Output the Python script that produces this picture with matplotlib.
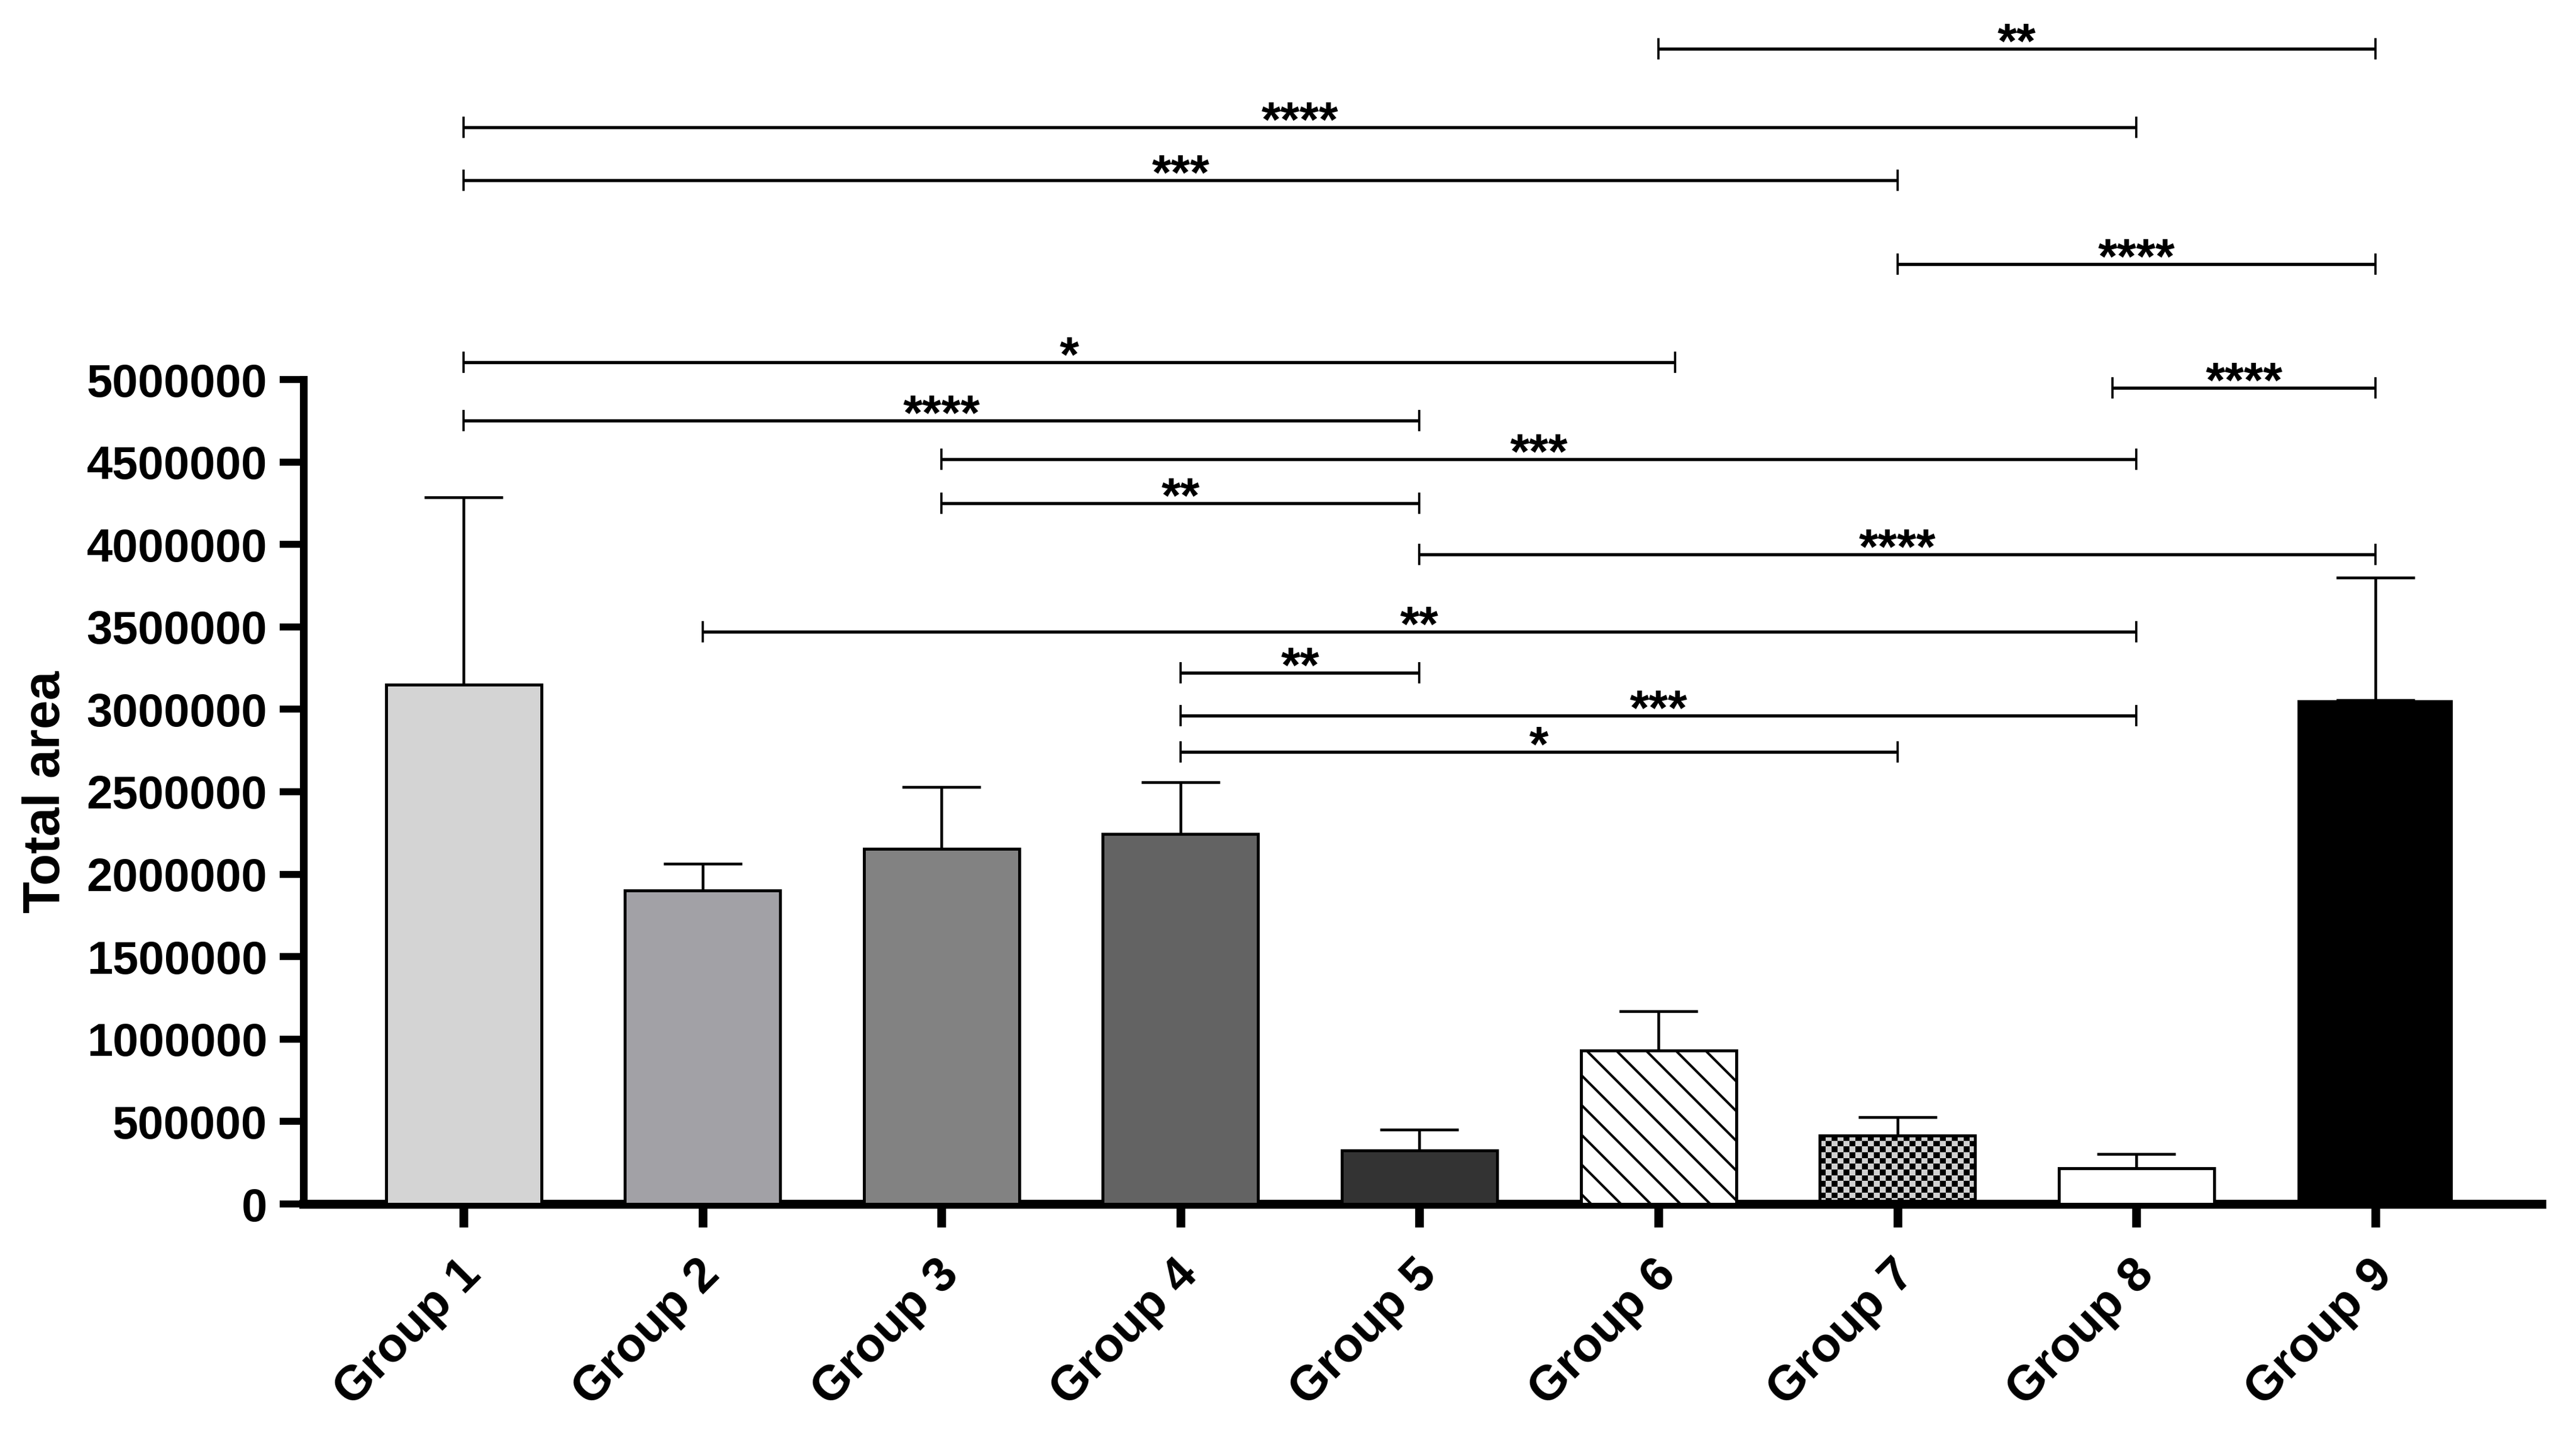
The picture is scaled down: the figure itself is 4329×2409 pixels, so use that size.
import matplotlib
matplotlib.use('Agg')
import matplotlib.pyplot as plt
import matplotlib.transforms as mtransforms
import numpy as np

plt.rcParams['font.family'] = ['Liberation Sans', 'DejaVu Sans']
plt.rcParams['font.weight'] = 'bold'
plt.rcParams['hatch.linewidth'] = 1.0

groups = ['Group 1', 'Group 2', 'Group 3', 'Group 4', 'Group 5',
          'Group 6', 'Group 7', 'Group 8', 'Group 9']
means = np.array([3149000, 1900000, 2154000, 2244000, 325000,
                  931000, 415000, 216000, 3055000])
upper = np.array([4286000, 2064000, 2529000, 2558000, 451000,
                  1169000, 527000, 303000, 3800000])
errs = upper - means
colors = ['#d4d4d4', '#a2a1a6', '#828282', '#636363', '#333333',
          'white', 'none', 'white', 'black']
hatches = [None, None, None, None, None, '\\\\', None, None, None]

# significance brackets: (from group, to group, height, label)
brackets = [
    (5, 8, 7007000, '**'),
    (0, 7, 6530000, '****'),
    (0, 6, 6210000, '***'),
    (6, 8, 5700000, '****'),
    (0, 5.07, 5105000, '*'),
    (6.9, 8, 4950000, '****'),
    (0, 4, 4750000, '****'),
    (2, 7, 4515000, '***'),
    (2, 4, 4250000, '**'),
    (4, 8, 3940000, '****'),
    (1, 7, 3470000, '**'),
    (3, 4, 3220000, '**'),
    (3, 7, 2960000, '***'),
    (3, 6, 2740000, '*'),
]

W, H, dpi = 4329, 2409, 300
fig = plt.figure(figsize=(W/dpi, H/dpi), dpi=dpi)
y0_px = 2024
px_per_unit = 277.2 / 1e6
ax = fig.add_axes([510/W, 1 - y0_px/H, (4271-510)/W, y0_px/H])
ax.set_facecolor('none')

x = np.arange(len(groups))
ax.errorbar(x, means, yerr=[np.zeros(len(means)), errs], fmt='none',
            ecolor='black', elinewidth=1.1, capsize=15.8, capthick=1.1, zorder=2)
bars = ax.bar(x, means, width=0.65, color=colors, edgecolor='black',
              linewidth=1.2, zorder=3)
for b, h in zip(bars, hatches):
    if h:
        b.set_hatch(h)
bars[-1].set_linewidth(0)

xlim = (-0.67, 8.695)
ylim = (0, y0_px / px_per_unit)

# checkered fill for group 7, clipped to the bar
b7 = bars[6]
bx0, bw, bh = b7.get_x(), b7.get_width(), b7.get_height()
ax_w_px = (4271 - 510)
ncols = int(round(bw / (xlim[1] - xlim[0]) * ax_w_px / 10))
nrows = max(1, int(round(bh * px_per_unit / 10)))
checker = (np.indices((nrows, ncols)).sum(axis=0) % 2).astype(float)
im = ax.imshow(checker, cmap=matplotlib.colors.ListedColormap(['black', '#d0d0d0']),
               extent=(bx0, bx0 + bw, 0, bh), aspect='auto',
               interpolation='nearest', zorder=2.5)
im.set_clip_path(b7)
ax.set_xlim(*xlim)
ax.set_ylim(*ylim)

# brackets
cap = 16 / px_per_unit
for a, b, yv, lab in brackets:
    ax.plot([a, b], [yv, yv], color='black', lw=1.3, solid_capstyle='butt', zorder=4)
    ax.plot([a, a], [yv - cap, yv + cap], color='black', lw=0.9, zorder=4)
    ax.plot([b, b], [yv - cap, yv + cap], color='black', lw=0.9, zorder=4)
    ax.annotate(lab, xy=((a + b) / 2, yv), xytext=(0, -3.8), textcoords='offset points',
                ha='center', va='baseline', fontsize=20, fontweight='bold')

for s in ['top', 'right']:
    ax.spines[s].set_visible(False)
ax.spines['left'].set_linewidth(3.1)
ax.spines['bottom'].set_linewidth(3.6)
ax.spines['left'].set_bounds(0, 5000000)

yt = np.arange(0, 5000001, 500000)
ax.set_yticks(yt)
ax.set_yticklabels([str(v) for v in yt], fontsize=18.7, fontweight='bold')
ax.tick_params(axis='y', direction='out', length=9.6, width=2.8, pad=5)
ax.set_xticks(x)
ax.set_xticklabels(groups, rotation=45, ha='right', va='top',
                   rotation_mode='anchor', fontsize=19.5, fontweight='bold')
ax.tick_params(axis='x', direction='out', length=9.4, width=3.5, pad=9.8)
offset = mtransforms.ScaledTranslation(-10/dpi, 0, fig.dpi_scale_trans)
for lbl in ax.get_xticklabels():
    lbl.set_transform(lbl.get_transform() + offset)

ax.set_ylabel('Total area', fontsize=21, fontweight='bold')
ax.yaxis.set_label_coords((118 - 510) / ax_w_px, 2500000 / ylim[1])

fig.savefig('out.png', dpi=dpi, facecolor='white')
